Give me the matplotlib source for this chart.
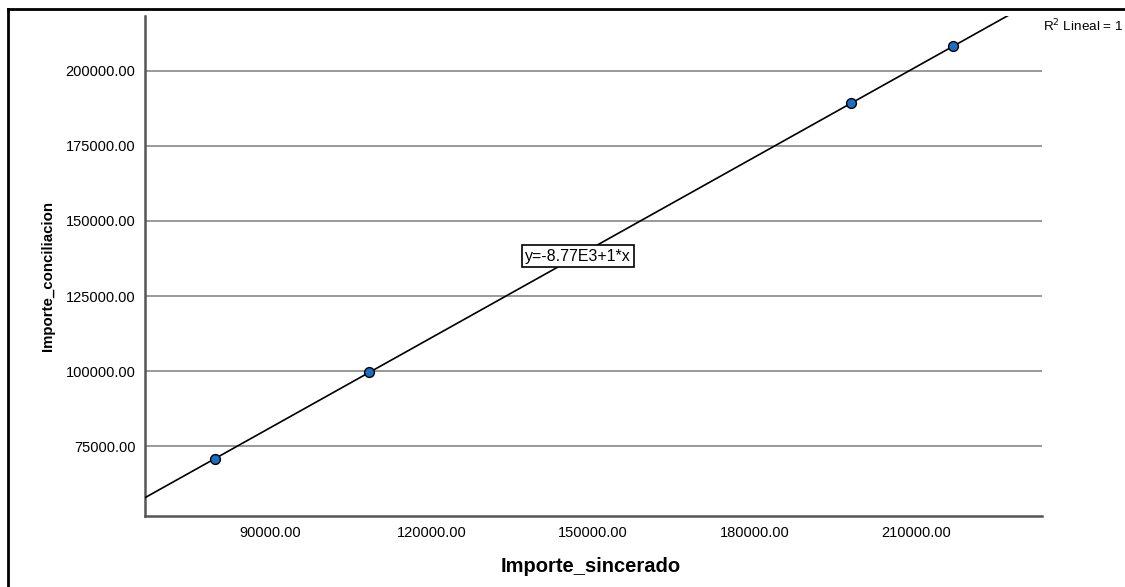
# -*- coding: utf-8 -*-
from matplotlib import pyplot as plt
from matplotlib.lines import Line2D
import numpy as np

# data
importe_sincerado = [79800, 108400, 197900, 216900]
importe_conciliacion = [70700, 99650, 189250, 208200]
x_ticks = [90000, 120000, 150000, 180000, 210000]
y_ticks = [75000, 100000, 125000, 150000, 175000, 200000]
eq_label = "y=-8.77E3+1*x"
r2_label = "R$^2$ Lineal = 1"

plt.rcParams['font.family'] = ['Liberation Sans', 'DejaVu Sans']

fig = plt.figure(figsize=(11.25, 5.87), dpi=100)
ax = fig.add_axes([145/1125, 1 - 516/587, (1042-145)/1125, (516-16)/587])

xmin, xmax = 66780, 233400
ymin, ymax = 51670, 218330
ax.set_xlim(xmin, xmax)
ax.set_ylim(ymin, ymax)

# fit line
b, a = np.polyfit(importe_sincerado, importe_conciliacion, 1)
xx = np.array([xmin, xmax])
ax.plot(xx, a + b*xx, color='black', lw=1.2, zorder=3)

ax.scatter(importe_sincerado, importe_conciliacion, s=50, color='#1a6fc4',
           edgecolor='black', linewidth=1, zorder=4)

ax.set_xticks(x_ticks)
ax.set_yticks(y_ticks)
ax.set_xticklabels(["%.2f" % v for v in x_ticks])
ax.set_yticklabels(["%.2f" % v for v in y_ticks])
ax.tick_params(length=0, labelsize=10.5, pad=7)
ax.grid(axis='y', color='#999999', lw=1.4)
ax.set_axisbelow(True)

for s in ['top', 'right']:
    ax.spines[s].set_visible(False)
for s in ['left', 'bottom']:
    ax.spines[s].set_color('#555555')
    ax.spines[s].set_linewidth(1.8)

ax.text(147200, 138300, eq_label, fontsize=11.5, ha='center', va='center',
        bbox=dict(boxstyle='square,pad=0.2', fc='white', ec='black', lw=1.2),
        zorder=5)

fig.text(591/1125, 1 - 567/587, "Importe_sincerado", fontsize=14.5,
         fontweight='bold', ha='center', va='center')
fig.text(48/1125, 1 - 276/587, "Importe_conciliacion", fontsize=10.8,
         fontweight='bold', rotation=90, ha='center', va='center')
fig.text(1043/1125, 1 - 26/587, r2_label, fontsize=9.7, ha='left', va='center')

# outer frame
fig.add_artist(Line2D([8/1125, 8/1125], [0, 1 - 9/587], color='black', lw=2,
                      transform=fig.transFigure))
fig.add_artist(Line2D([8/1125, 1], [1 - 9/587, 1 - 9/587], color='black', lw=2,
                      transform=fig.transFigure))

fig.savefig('out.png', dpi=100)
